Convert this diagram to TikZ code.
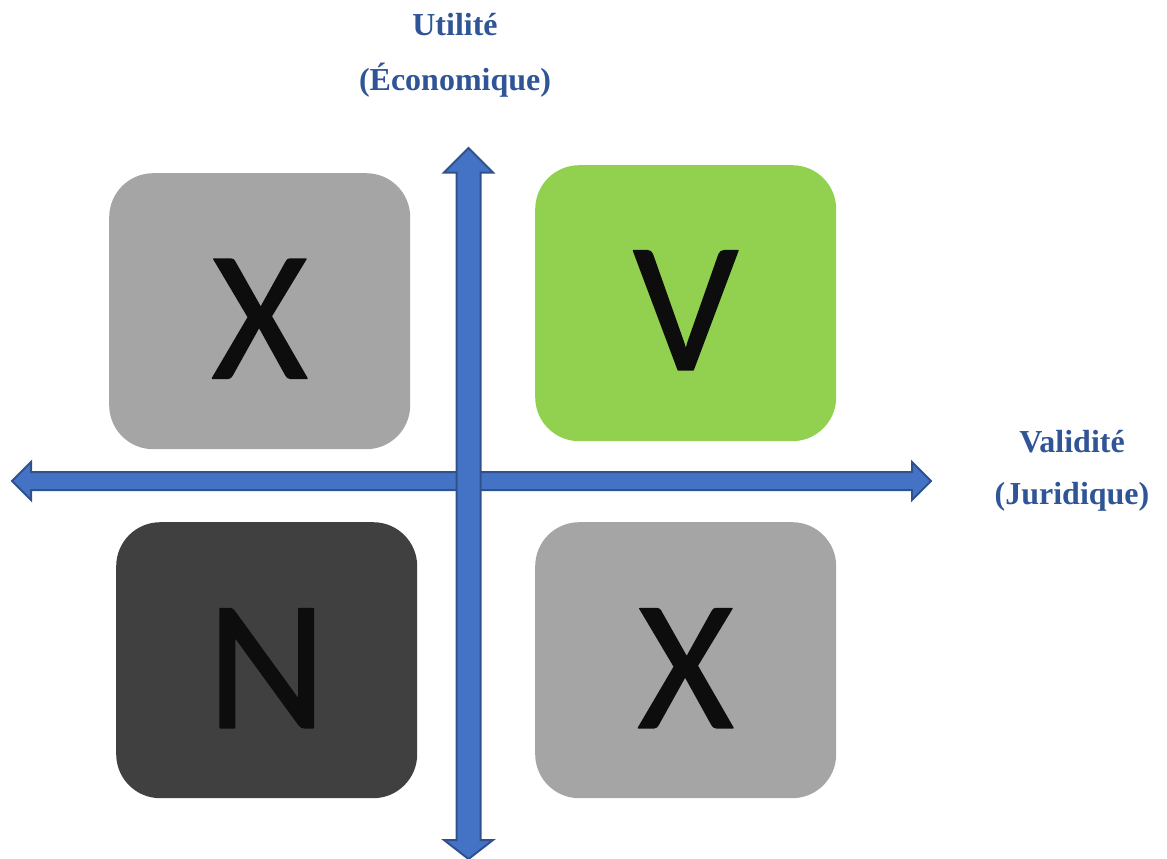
\documentclass[tikz,border=0pt]{standalone}
\usepackage{fontspec}
\setmainfont{Liberation Serif}
\newfontfamily\letterfont{Carlito}
\definecolor{axisfill}{HTML}{4472C4}
\definecolor{axisline}{HTML}{2F528F}
\definecolor{labelblue}{HTML}{2F5597}
\definecolor{boxgray}{HTML}{A5A5A5}
\definecolor{boxgreen}{HTML}{92D050}
\definecolor{boxdark}{HTML}{404040}
\definecolor{letterink}{HTML}{0D0D0D}
% big letters: filled and stroked with a round join for softer, heavier glyphs
\newcommand{\softletter}[1]{\special{pdf:code q 2 Tr 1.5 w 1 j 0.05 0.05 0.05 RG}#1\special{pdf:code Q}}
\begin{document}
\begin{tikzpicture}[x=1pt,y=-1pt,
  quad/.style={rounded corners=44pt, minimum width=301pt, minimum height=276pt, inner sep=0pt, anchor=north west},
  letter/.style={font=\letterfont\fontsize{186}{186}\selectfont, text=letterink, inner sep=0pt},
  axislabel/.style={font=\bfseries\fontsize{32}{32}\selectfont, text=labelblue, inner sep=0pt},
  axisshape/.style={fill=axisfill, draw=axisline, line width=2pt, line join=miter}]
\useasboundingbox (0,0) rectangle (1167,859);

% quadrants
\node[quad, fill=boxgray]  (tl) at (109,173) {};
\node[quad, fill=boxgreen] (tr) at (535,165) {};
\node[quad, fill=boxdark]  (bl) at (116,522) {};
\node[quad, fill=boxgray]  (br) at (535,522) {};

\node[letter] (xtl) at ([yshift=-7.5pt]tl.center) {\softletter{X}};
\node[letter] (vtr) at ([yshift=-7pt]tr.center) {\softletter{V}};
\node[letter] (nbl) at ([yshift=-8pt]bl.center) {\softletter{N}};
\node[letter] (xbr) at ([yshift=-8pt]br.center) {\softletter{X}};

% horizontal axis (double-headed block arrow)
\coordinate (hl) at (12,481);
\coordinate (hr) at (931,481);
\draw[axisshape] (hl) -- (31,462) -- (31,472) -- (912,472) -- (912,462) -- (hr)
  -- (912,500) -- (912,490) -- (31,490) -- (31,500) -- cycle;

% vertical axis, drawn over the horizontal one
\coordinate (vt) at (468.5,148);
\coordinate (vb) at (468.5,859);
\draw[axisshape] (vt) -- (493,172.5) -- (480.5,172.5) -- (480.5,840) -- (493,840) -- (vb)
  -- (444,840) -- (456.5,840) -- (456.5,172.5) -- (444,172.5) -- cycle;

% axis labels
\node[axislabel] (u1) at (455,25) {Utilité};
\node[axislabel] (u2) at (455,80) {(Économique)};
\node[axislabel] (v1) at (1072,442) {Validité};
\node[axislabel] (v2) at (1072,497) {(Juridique)};
\end{tikzpicture}
\end{document}
